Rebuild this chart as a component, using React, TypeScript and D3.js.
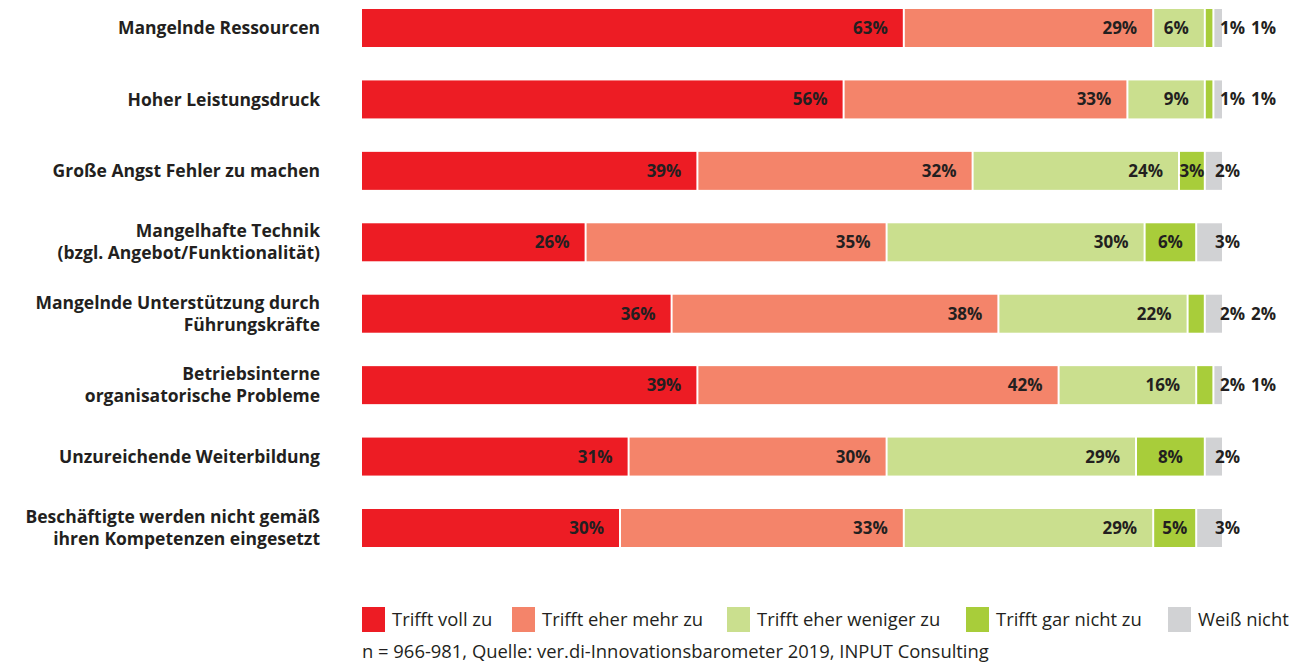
import React from "react";
import * as d3 from "d3";

const categories: string[][] = [
  ["Mangelnde Ressourcen"],
  ["Hoher Leistungsdruck"],
  ["Große Angst Fehler zu machen"],
  ["Mangelhafte Technik", "(bzgl. Angebot/Funktionalität)"],
  ["Mangelnde Unterstützung durch", "Führungskräfte"],
  ["Betriebsinterne", "organisatorische Probleme"],
  ["Unzureichende Weiterbildung"],
  ["Beschäftigte werden nicht gemäß", "ihren Kompetenzen eingesetzt"],
];

const seriesNames = ["Trifft voll zu", "Trifft eher mehr zu", "Trifft eher weniger zu", "Trifft gar nicht zu", "Weiß nicht"];
const colors = ["#ED1C24", "#F4846A", "#CADF8E", "#A8CD3A", "#D1D2D4"];

const trifftVoll = [63, 56, 39, 26, 36, 39, 31, 30];
const trifftEherMehr = [29, 33, 32, 35, 38, 42, 30, 33];
const trifftEherWeniger = [6, 9, 24, 30, 22, 16, 29, 29];
const trifftGarNicht = [1, 1, 3, 6, 2, 2, 8, 5];
const weissNicht = [1, 1, 2, 3, 2, 1, 2, 3];

const footer = "n = 966-981, Quelle: ver.di-Innovationsbarometer 2019, INPUT Consulting";

const W = 1316;
const H = 663;
const FONT = "'Open Sans', sans-serif";
const TXT = "#231F20";
const LABEL_SIZE = 17.5;
const VALUE_SIZE = 17;
const LEGEND_SIZE = 18.4;

export default function App() {
  const series = [trifftVoll, trifftEherMehr, trifftEherWeniger, trifftGarNicht, weissNicht];
  const idx = categories.map((_, i) => String(i));
  const x = d3.scaleLinear().domain([0, 100]).range([362, 1222]);
  const y = d3.scaleBand<string>().domain(idx).range([9, 547]).paddingInner(0.468).paddingOuter(0);
  const stack = d3.stack<number>().keys(seriesNames.map((_, k) => String(k))).value((i, key) => series[+key][i]);
  const stacked = stack(categories.map((_, i) => i));

  const legendX = [362, 512, 727, 966, 1168];

  return (
    <div style={{ position: "fixed", left: 0, top: 0 }}>
      <svg width={W} height={H} style={{ display: "block", background: "#fff" }}>
        {categories.map((lines, i) => {
          const cy = (y(String(i)) as number) + y.bandwidth() / 2;
          const offs = lines.length === 1 ? [0] : [-11, 11];
          return (
            <text key={"c" + i} textAnchor="end" fontFamily={FONT} fontWeight={700} fontSize={LABEL_SIZE} fill={TXT}>
              {lines.map((l, j) => (
                <tspan key={j} x={320} y={cy + offs[j]} dy="0.35em">{l}</tspan>
              ))}
            </text>
          );
        })}
        {stacked.map((layer, k) =>
          layer.map((d, i) => {
            const x0 = x(d[0]) + (k > 0 ? 1 : 0);
            const x1 = x(d[1]) - (k < 4 ? 1 : 0);
            return (
              <rect key={"r" + k + "_" + i} x={x0} y={y(String(i))} width={Math.max(0, x1 - x0)} height={y.bandwidth()} fill={colors[k]} />
            );
          })
        )}
        {categories.map((_, i) => {
          const cy = (y(String(i)) as number) + y.bandwidth() / 2;
          const labels: React.ReactNode[] = [];
          const smallGreen = series[3][i] <= 2;
          for (let k = 0; k < 5; k++) {
            const d = stacked[k][i];
            const v = series[k][i];
            let tx: number;
            let anchor: "start" | "middle" | "end" = "end";
            if (k < 3) {
              tx = x(d[1]) - 16;
            } else if (k === 3) {
              if (smallGreen) {
                tx = x(100) - 2;
                anchor = "start";
              } else {
                tx = (x(d[0]) + x(d[1])) / 2;
                anchor = "middle";
              }
            } else {
              if (smallGreen) {
                tx = x(100) + 29;
                anchor = "start";
              } else {
                tx = x(100) + 18;
                anchor = "end";
              }
            }
            labels.push(
              <text key={"v" + k + "_" + i} x={tx} y={cy} dy="0.35em" textAnchor={anchor} fontFamily={FONT} fontWeight={700} fontSize={VALUE_SIZE} fill={TXT}>
                {v + "%"}
              </text>
            );
          }
          return <g key={"g" + i}>{labels}</g>;
        })}
        {seriesNames.map((name, k) => (
          <g key={"l" + k}>
            <rect x={legendX[k]} y={607} width={23} height={25} fill={colors[k]} />
            <text x={legendX[k] + 30} y={620} dy="0.35em" fontFamily={FONT} fontSize={LEGEND_SIZE} fill={TXT}>{name}</text>
          </g>
        ))}
        <text x={362} y={652} dy="0.35em" fontFamily={FONT} fontSize={LEGEND_SIZE} fill={TXT}>{footer}</text>
      </svg>
    </div>
  );
}
